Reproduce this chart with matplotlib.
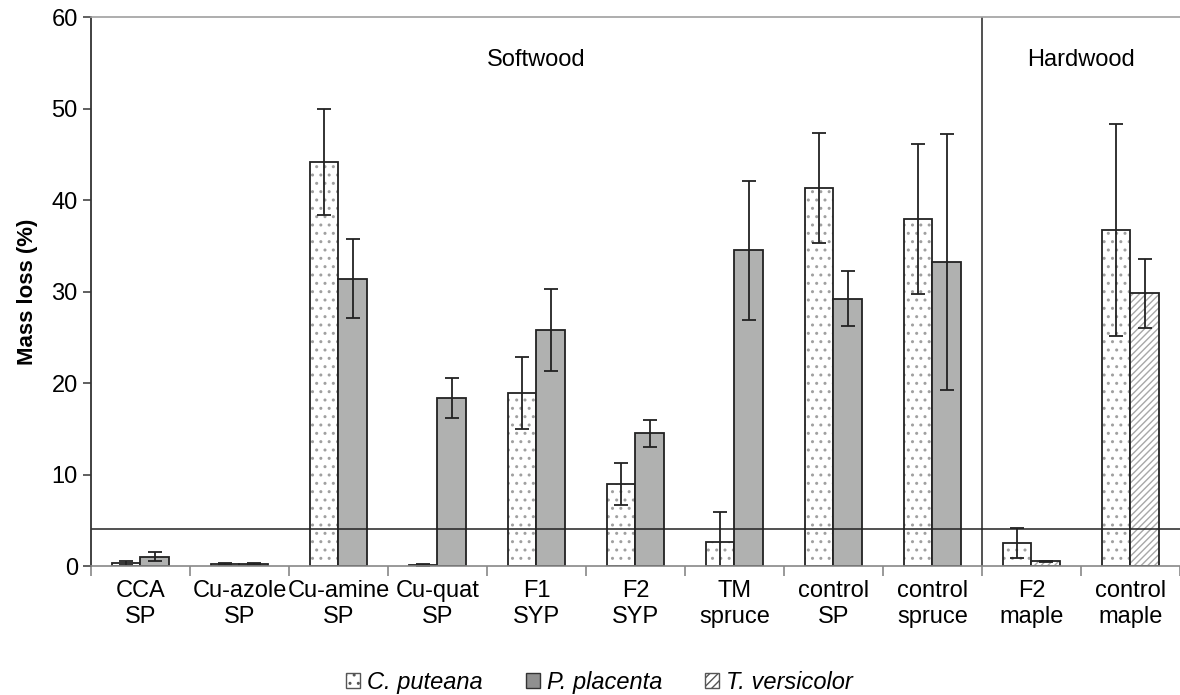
import numpy as np
import matplotlib.pyplot as plt
from matplotlib.patches import Patch

plt.rcParams['font.family'] = ['Liberation Sans', 'DejaVu Sans']
plt.rcParams['hatch.linewidth'] = 1.0

categories = ['CCA\nSP', 'Cu-azole\nSP', 'Cu-amine\nSP', 'Cu-quat\nSP', 'F1\nSYP',
              'F2\nSYP', 'TM\nspruce', 'control\nSP', 'control\nspruce', 'F2\nmaple',
              'control\nmaple']

# C. puteana on every group
puteana = [0.3, 0.2, 44.2, 0.1, 18.9, 9.0, 2.6, 41.3, 37.9, 2.5, 36.7]
puteana_err = [0.2, 0.1, 5.8, 0.1, 3.9, 2.3, 3.3, 6.0, 8.2, 1.6, 11.6]

# second fungus: P. placenta on softwood, T. versicolor on hardwood
second = [1.0, 0.2, 31.4, 18.4, 25.8, 14.5, 34.5, 29.2, 33.2, 0.5, 29.8]
second_err = [0.5, 0.1, 4.3, 2.2, 4.5, 1.5, 7.6, 3.0, 14.0, 0.1, 3.8]
second_is_tv = [False] * 9 + [True, True]

threshold = 4.0

x = np.arange(len(categories))
w = 0.29
gray = '#b0b1b0'

fig = plt.figure(figsize=(11.8, 6.95), dpi=100)
ax = fig.add_axes([0.0771, 0.1856, 0.9229, 0.7899])

# C. puteana: white with gray dots
ax.bar(x - w / 2, puteana, w, color='white', hatch='..', edgecolor='#a0a0a0', linewidth=0)
ax.bar(x - w / 2, puteana, w, fill=False, edgecolor='#222222', linewidth=1.3)

for i in range(len(x)):
    if second_is_tv[i]:
        ax.bar(x[i] + w / 2, second[i], w, color='white', hatch='/////',
               edgecolor='#a8a8a8', linewidth=0)
        ax.bar(x[i] + w / 2, second[i], w, fill=False, edgecolor='#222222', linewidth=1.3)
    else:
        ax.bar(x[i] + w / 2, second[i], w, color=gray, edgecolor='#222222', linewidth=1.3)

ax.errorbar(x - w / 2, puteana, yerr=puteana_err, fmt='none', ecolor='#222222',
            elinewidth=1.3, capsize=5, capthick=1.3)
ax.errorbar(x + w / 2, second, yerr=second_err, fmt='none', ecolor='#222222',
            elinewidth=1.3, capsize=5, capthick=1.3)

ax.axhline(threshold, color='#222222', linewidth=1.1)
ax.axvline(8.5, color='#222222', linewidth=1.1)

ax.text(4.0, 55.3, 'Softwood', ha='center', va='center', fontsize=17)
ax.text(9.5, 55.3, 'Hardwood', ha='center', va='center', fontsize=17)

ax.set_xlim(-0.5, 10.5)
ax.set_ylim(0, 60)
ax.set_yticks(range(0, 61, 10))
ax.set_xticks(x)
ax.set_xticklabels(categories, fontsize=17, linespacing=1.22)
ax.set_xticks(np.arange(-0.5, 10.6, 1), minor=True)
ax.tick_params(axis='x', which='major', length=0, pad=10)
ax.tick_params(axis='x', which='minor', length=7, color='#888888', width=1.2)
ax.tick_params(axis='y', labelsize=17, length=6, color='#444444', width=1.2)

ax.spines['left'].set_color('#333333')
ax.spines['left'].set_linewidth(1.3)
ax.spines['bottom'].set_color('#888888')
ax.spines['bottom'].set_linewidth(1.2)
ax.spines['top'].set_color('#a0a0a0')
ax.spines['top'].set_linewidth(1.2)
ax.spines['right'].set_visible(False)

ax.set_ylabel('Mass loss (%)', fontsize=16, fontweight='bold', labelpad=10)

handles = [
    Patch(facecolor='white', edgecolor='#555555', hatch='..', label='C. puteana'),
    Patch(facecolor='#909090', edgecolor='#333333', label='P. placenta'),
    Patch(facecolor='white', edgecolor='#555555', hatch='////', label='T. versicolor'),
]
leg = fig.legend(handles=handles, loc='center', bbox_to_anchor=(0.508, 0.018), ncol=3,
                 frameon=False, handlelength=0.6, handleheight=0.6, handletextpad=0.3,
                 columnspacing=1.8, prop={'size': 17, 'style': 'italic'})

fig.savefig('out.png', dpi=100)
